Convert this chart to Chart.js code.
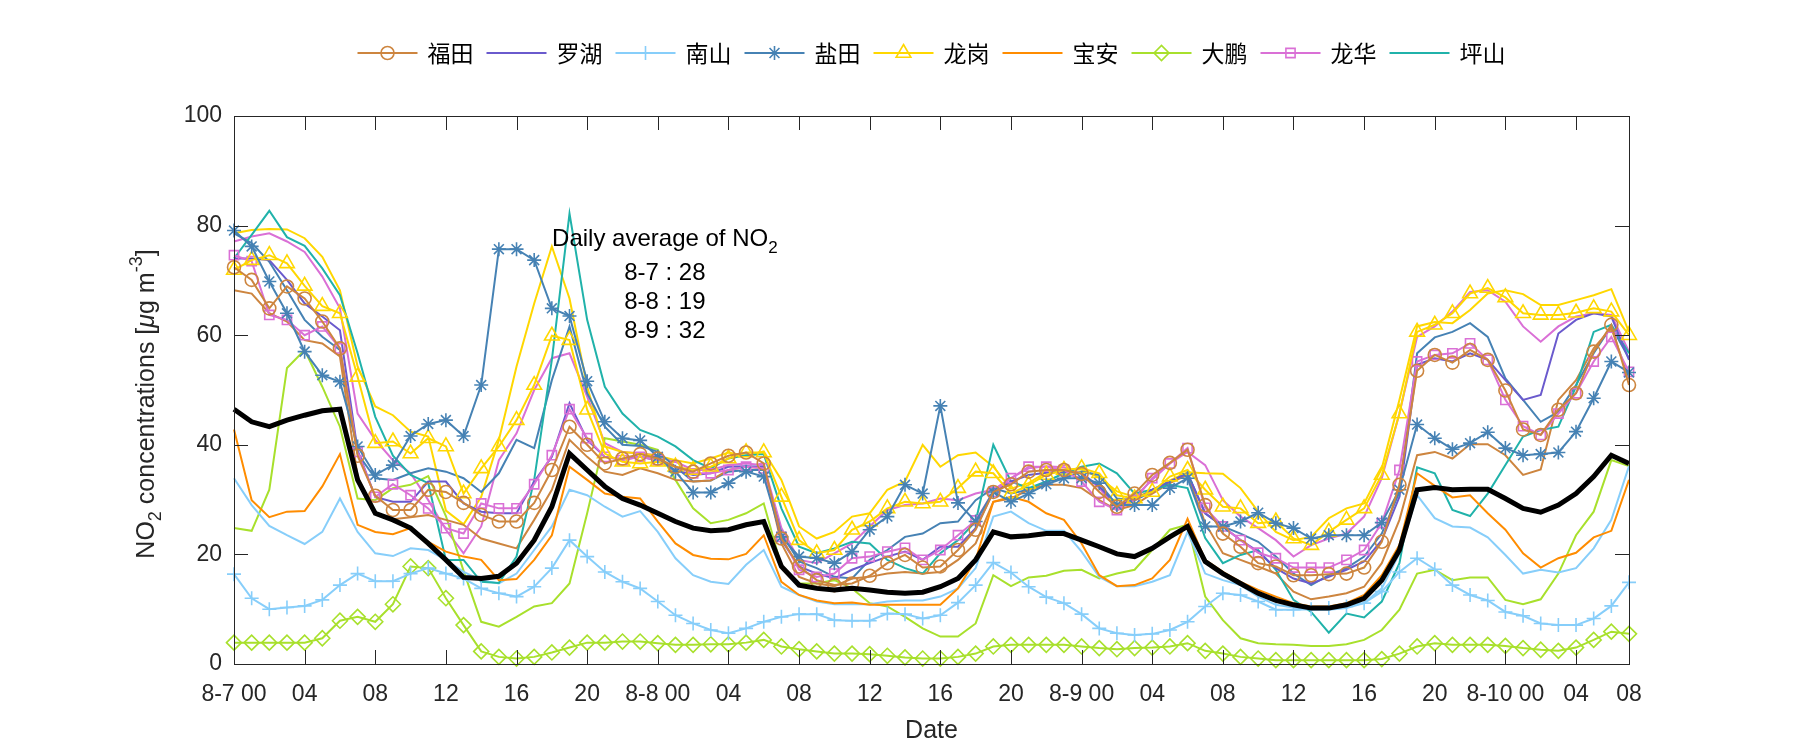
<!DOCTYPE html>
<html>
<head>
<meta charset="utf-8">
<script src="https://cdn.jsdelivr.net/npm/chart.js@4.4.1/dist/chart.umd.min.js"></script>
<style>
    html, body { margin: 0; padding: 0; background: #fff; }
</style>
</head>
<body>
<canvas id="no2-chart" width="1800" height="750"></canvas>
<script>
// hours since 8-7 00:00
const hours = [0, 1, 2, 3, 4, 5, 6, 7, 8, 9, 10, 11, 12, 13, 14, 15, 16, 17, 18, 19,
    20, 21, 22, 23, 24, 25, 26, 27, 28, 29, 30, 31, 32, 33, 34, 35, 36, 37, 38, 39,
    40, 41, 42, 43, 44, 45, 46, 47, 48, 49, 50, 51, 52, 53, 54, 55, 56, 57, 58, 59,
    60, 61, 62, 63, 64, 65, 66, 67, 68, 69, 70, 71, 72, 73, 74, 75, 76, 77, 78, 79];
const tickHours = [0, 4, 8, 12, 16, 20, 24, 28, 32, 36, 40, 44, 48, 52, 56, 60, 64, 68, 72, 76, 79];
const tickLabels = ["8-7 00", "04", "08", "12", "16", "20", "8-8 00", "04", "08", "12", "16", "20",
    "8-9 00", "04", "08", "12", "16", "20", "8-10 00", "04", "08"];
const yTicks = [0, 20, 40, 60, 80, 100];
const dailyAverages = [["8-7", 28], ["8-8", 19], ["8-9", 32]];

const futian = [72.4, 70.1, 64.9, 68.9, 66.7, 62.5, 57.6, 38.0, 30.7, 28.1, 28.1, 31.8, 31.4, 29.4,
    27.2, 26.0, 26.0, 29.4, 35.4, 43.3, 40.0, 36.6, 37.5, 38.3, 37.5, 36.0, 35.1, 36.6,
    38.0, 38.6, 36.6, 22.9, 17.8, 15.3, 14.4, 14.7, 16.1, 18.4, 19.9, 17.6, 17.8,
    20.8, 24.5, 31.4, 32.8, 35.1, 35.4, 35.4, 34.7, 31.4, 28.7, 31.1, 34.5, 36.7, 39.1,
    29.0, 23.8, 21.4, 18.4, 17.8, 16.2, 16.2, 16.4, 16.5, 17.6, 22.3, 32.7, 53.5, 56.4,
    55.0, 57.3, 55.5, 49.9, 42.8, 41.8, 46.4, 49.4, 57.0, 61.9, 50.9];
const futian2 = [68.2, 67.6, 64.0, 62.5, 59.1, 58.5, 56.1, 34.2, 27.5, 26.4, 26.8, 27.2, 26.3, 25.4,
    22.9, 22.0, 21.1, 26.3, 31.8, 40.9, 37.8, 35.1, 34.5, 35.7, 34.8, 33.6, 33.3, 33.5,
    35.4, 36.0, 35.7, 22.0, 15.9, 14.7, 14.2, 15.6, 15.9, 16.5, 16.8, 16.5, 16.8,
    19.0, 22.0, 29.6, 30.2, 31.8, 32.7, 32.7, 32.1, 29.9, 28.1, 29.0, 31.1, 33.0, 34.5,
    25.7, 20.2, 19.0, 17.8, 16.5, 13.2, 11.8, 12.3, 12.9, 14.1, 18.4, 26.3, 38.1, 38.7,
    37.5, 40.1, 40.1, 38.1, 34.5, 35.5, 48.2, 51.8, 57.6, 61.3, 52.0];
const luohu = [74.0, 74.0, 73.7, 70.1, 65.8, 63.4, 60.9, 39.0, 30.5, 29.6, 29.6, 33.3, 33.3, 29.3,
    27.8, 27.5, 27.5, 33.3, 37.8, 47.6, 40.9, 37.8, 37.3, 37.8, 37.2, 35.4, 34.5, 34.8,
    36.0, 36.1, 36.0, 22.6, 17.8, 16.5, 15.6, 17.2, 18.4, 19.6, 20.5, 19.0, 21.4,
    21.4, 24.8, 31.4, 33.3, 34.5, 34.9, 35.1, 34.8, 32.4, 29.0, 29.9, 31.8, 33.3, 34.8,
    27.5, 25.1, 22.6, 20.5, 17.5, 15.6, 14.7, 15.9, 17.2, 18.7, 22.6, 30.5, 54.6, 55.8,
    55.2, 56.7, 55.5, 51.8, 48.2, 49.1, 60.3, 62.8, 64.0, 63.4, 55.5];
const nanshan = [16.4, 12.0, 10.0, 10.3, 10.6, 11.7, 14.4, 16.5, 15.1, 15.1, 16.5, 17.5, 16.5, 15.6,
    13.8, 12.9, 12.3, 14.1, 17.5, 22.6, 19.6, 16.8, 15.0, 13.8, 11.4, 8.9, 7.4, 6.2,
    5.6, 6.5, 7.7, 8.6, 9.1, 9.1, 8.0, 7.9, 7.9, 9.2, 9.1, 8.3, 8.9,
    11.2, 14.4, 18.5, 16.7, 14.1, 12.2, 11.1, 9.1, 6.5, 5.6, 5.3, 5.5, 6.2, 7.7,
    10.5, 12.9, 12.6, 11.4, 9.9, 9.9, 10.0, 10.2, 10.5, 11.1, 13.2, 16.8, 19.3, 17.3,
    14.4, 12.6, 11.6, 9.5, 8.8, 7.4, 7.1, 7.1, 8.3, 10.6, 14.9];
const nanshan2 = [33.9, 29.0, 25.2, 23.5, 21.9, 24.1, 30.2, 24.1, 20.2, 19.7, 21.1, 20.8, 19.0, 16.8,
    15.3, 14.7, 16.5, 20.8, 25.1, 31.8, 30.8, 28.7, 26.9, 27.9, 24.1, 19.3, 16.2, 15.0,
    14.6, 18.1, 20.8, 14.1, 12.6, 11.4, 10.9, 10.9, 10.9, 11.4, 11.6, 11.6, 12.3,
    13.8, 17.5, 26.9, 27.8, 25.7, 24.3, 24.3, 20.5, 15.9, 14.2, 14.2, 15.0, 16.2, 24.1,
    16.5, 15.3, 14.4, 12.3, 10.8, 10.3, 9.9, 9.9, 10.2, 11.1, 13.8, 20.2, 30.8, 26.6,
    25.1, 24.9, 23.1, 19.9, 16.5, 17.2, 16.7, 17.5, 21.1, 26.3, 36.1];
const yantian = [79.1, 76.2, 69.8, 64.0, 57.0, 52.7, 51.5, 39.7, 34.5, 36.3, 41.6, 43.8, 44.5, 41.6,
    50.9, 75.7, 75.7, 73.7, 64.9, 63.5, 51.6, 44.2, 41.2, 40.8, 37.8, 35.1, 31.3, 31.3,
    33.0, 35.1, 34.2, 23.2, 19.6, 19.3, 18.4, 20.5, 24.5, 26.9, 32.7, 31.1, 47.1,
    29.4, 26.0, 31.4, 29.6, 31.1, 32.8, 33.9, 33.9, 33.0, 29.0, 29.0, 29.0, 32.1, 33.9,
    25.1, 25.1, 26.0, 27.6, 25.7, 24.8, 22.9, 23.5, 23.5, 23.5, 25.8, 31.8, 43.7, 41.2,
    39.2, 40.3, 42.3, 39.4, 38.1, 38.3, 38.6, 42.4, 48.5, 55.2, 53.2];
const yantian2 = [78.6, 76.8, 73.4, 68.2, 62.8, 59.7, 57.3, 38.4, 33.9, 33.6, 34.8, 35.7, 35.1, 33.9,
    31.4, 34.8, 40.9, 39.4, 51.8, 61.6, 49.4, 43.3, 40.0, 39.8, 38.7, 36.0, 33.3, 33.5,
    35.1, 35.4, 35.4, 23.8, 18.7, 17.5, 15.9, 15.6, 19.0, 20.8, 23.2, 23.8, 25.7,
    26.0, 29.9, 32.1, 31.1, 31.8, 33.3, 33.9, 35.1, 34.5, 30.2, 29.9, 31.4, 33.3, 34.8,
    27.5, 25.1, 23.8, 22.3, 19.6, 16.5, 14.4, 16.2, 17.5, 19.6, 23.8, 31.4, 56.7, 59.6,
    60.6, 62.2, 59.7, 52.1, 48.2, 44.2, 46.0, 50.9, 56.7, 61.6, 55.8];
const longgang = [71.9, 73.7, 74.6, 73.1, 69.0, 65.3, 64.0, 52.4, 40.3, 40.6, 38.4, 41.2, 39.7, 31.1,
    35.7, 39.7, 44.5, 50.9, 59.9, 59.1, 46.4, 38.4, 36.9, 36.6, 36.9, 36.0, 35.4, 36.0,
    37.5, 38.6, 38.6, 30.5, 22.6, 20.2, 20.8, 24.5, 26.0, 28.4, 29.6, 29.3, 29.6,
    32.1, 35.1, 34.8, 31.1, 32.7, 34.5, 35.4, 35.7, 34.8, 30.8, 30.2, 31.4, 34.2, 35.4,
    31.8, 28.7, 28.4, 25.7, 26.0, 22.9, 21.7, 24.1, 26.3, 28.4, 34.5, 45.7, 60.6, 61.9,
    64.0, 67.6, 68.6, 66.9, 64.0, 63.7, 63.7, 64.1, 64.9, 64.3, 60.0];
const longgang2 = [78.6, 79.2, 79.4, 79.3, 77.7, 74.3, 68.2, 54.3, 47.0, 45.4, 42.4, 41.5, 28.0, 25.5,
    30.5, 40.9, 54.3, 65.8, 76.2, 66.7, 50.6, 39.7, 38.7, 38.4, 38.0, 37.2, 36.6, 37.5,
    38.6, 38.0, 38.8, 33.6, 25.1, 22.9, 24.1, 26.9, 27.5, 31.8, 33.3, 40.0, 36.0,
    38.1, 38.6, 36.0, 32.0, 33.0, 35.0, 35.5, 35.5, 34.0, 31.5, 30.5, 31.5, 33.5, 35.0,
    34.8, 34.7, 32.1, 27.8, 24.1, 22.6, 23.2, 26.6, 28.4, 29.3, 35.7, 48.2, 61.6, 62.4,
    62.2, 64.6, 67.6, 68.2, 67.5, 65.5, 65.5, 66.4, 67.3, 68.4, 60.6];
const baoan = [42.8, 29.9, 26.8, 27.8, 27.9, 32.4, 38.3, 25.4, 24.1, 23.7, 24.8, 22.3, 20.5, 19.6,
    19.0, 15.3, 15.5, 19.0, 23.5, 36.0, 33.6, 31.1, 30.5, 30.2, 26.0, 22.0, 19.9, 19.2,
    19.1, 20.1, 23.5, 15.0, 12.6, 11.6, 11.1, 11.2, 10.8, 10.8, 10.8, 10.8, 10.8,
    13.8, 19.0, 29.6, 30.5, 29.6, 27.5, 26.3, 22.0, 16.2, 14.2, 14.4, 15.6, 19.0, 26.5,
    19.0, 16.8, 15.0, 13.5, 12.3, 11.1, 10.5, 10.5, 11.1, 12.6, 16.2, 21.7, 34.8, 32.5,
    30.4, 30.8, 27.5, 24.5, 20.2, 17.6, 19.3, 20.3, 23.1, 24.3, 33.6];
const dapeng = [3.9, 3.9, 3.9, 3.9, 3.9, 4.7, 7.9, 8.6, 7.7, 10.9, 17.8, 17.5, 12.0, 7.1,
    2.3, 1.3, 1.0, 1.3, 2.1, 3.0, 3.9, 3.9, 4.1, 4.1, 3.8, 3.5, 3.5, 3.6,
    3.6, 3.9, 4.4, 3.2, 2.7, 2.3, 1.9, 1.9, 1.8, 1.5, 1.2, 1.0, 1.0,
    1.3, 1.9, 3.2, 3.5, 3.5, 3.5, 3.5, 3.2, 2.9, 2.7, 2.9, 3.0, 3.2, 3.8,
    2.4, 1.9, 1.3, 1.0, 0.7, 0.7, 0.7, 0.7, 0.7, 0.7, 0.9, 1.9, 3.2, 3.8,
    3.5, 3.5, 3.5, 3.3, 2.9, 2.6, 2.4, 3.0, 4.4, 5.9, 5.5];
const dapeng2 = [24.8, 24.3, 31.8, 54.0, 57.3, 50.6, 43.3, 30.2, 29.9, 32.1, 32.7, 34.3, 27.0, 17.0,
    7.7, 6.8, 8.6, 10.5, 11.1, 14.7, 27.5, 41.2, 40.6, 40.0, 39.1, 33.6, 28.4, 25.7,
    26.3, 27.5, 29.3, 17.8, 14.7, 14.7, 15.3, 13.8, 11.1, 10.5, 8.6, 6.5, 5.0,
    5.0, 7.4, 16.2, 14.2, 15.8, 16.1, 17.0, 17.2, 15.6, 16.5, 17.2, 20.8, 24.5, 25.4,
    12.3, 8.0, 4.7, 3.8, 3.6, 3.5, 3.3, 3.3, 3.6, 4.4, 6.2, 9.9, 16.5, 17.2,
    15.3, 15.8, 15.8, 11.7, 10.9, 11.8, 16.5, 23.5, 27.8, 37.2, 36.1];
const longhua = [74.6, 73.5, 63.7, 62.8, 60.0, 61.6, 57.6, 38.7, 30.5, 32.8, 30.8, 28.4, 24.8, 23.8,
    29.3, 28.4, 28.4, 32.8, 38.1, 46.5, 41.2, 37.8, 37.2, 37.8, 37.2, 36.0, 34.8, 34.8,
    35.4, 36.0, 35.7, 23.2, 17.2, 15.9, 16.5, 19.3, 19.6, 20.5, 21.2, 19.0, 20.8,
    23.5, 26.2, 31.4, 33.9, 36.0, 36.0, 35.4, 33.3, 29.6, 28.1, 29.9, 33.9, 36.6, 39.4,
    28.5, 25.1, 22.6, 20.3, 19.3, 17.6, 17.6, 17.6, 19.0, 20.8, 25.7, 35.4, 55.2, 56.4,
    56.7, 58.5, 55.5, 48.2, 43.4, 41.8, 45.7, 49.4, 55.2, 59.7, 53.3];
const longhua2 = [77.1, 78.0, 78.6, 77.1, 75.2, 70.7, 64.9, 45.7, 40.9, 37.2, 34.8, 29.9, 24.5, 20.2,
    25.1, 37.2, 42.1, 50.0, 55.8, 56.7, 48.8, 40.3, 38.7, 38.4, 38.1, 36.9, 35.4, 35.4,
    36.3, 36.6, 36.3, 24.8, 19.0, 18.4, 20.2, 22.0, 25.1, 28.1, 29.0, 29.3, 30.2,
    29.9, 31.1, 31.8, 33.9, 35.7, 36.1, 35.9, 34.8, 32.1, 28.4, 30.5, 33.6, 36.6, 38.7,
    36.3, 29.9, 26.9, 24.8, 22.6, 19.6, 21.7, 22.9, 23.8, 26.9, 33.9, 45.7, 59.7, 61.6,
    64.3, 67.9, 68.2, 66.1, 61.6, 58.8, 61.6, 63.4, 64.0, 63.7, 57.0];
const pingshan = [74.0, 78.3, 82.7, 77.9, 76.3, 72.2, 67.3, 56.7, 45.1, 38.0, 34.5, 33.0, 19.0, 19.0,
    15.0, 14.8, 19.6, 33.6, 55.5, 82.2, 62.8, 50.6, 45.7, 42.7, 41.5, 39.7, 37.2, 35.7,
    37.5, 38.1, 38.3, 28.4, 21.4, 20.2, 21.1, 22.3, 22.0, 19.0, 17.5, 16.5, 20.2,
    22.6, 26.0, 40.0, 33.3, 32.1, 33.3, 34.8, 36.0, 36.6, 34.8, 31.1, 31.8, 32.7, 32.1,
    23.0, 18.4, 19.9, 20.8, 17.2, 11.7, 9.5, 5.7, 9.2, 8.5, 11.4, 18.4, 35.9, 34.8,
    28.1, 27.0, 31.1, 36.3, 41.5, 42.7, 43.3, 50.6, 60.6, 61.9, 56.7];
const cityAverage = [46.5, 44.2, 43.3, 44.5, 45.4, 46.2, 46.5, 33.6, 27.5, 26.3, 24.8, 22.0, 19.0, 15.8,
    15.6, 16.0, 18.4, 22.6, 28.7, 38.4, 35.4, 32.4, 30.2, 29.0, 27.5, 26.0, 24.8, 24.3,
    24.5, 25.4, 26.0, 17.8, 14.4, 13.8, 13.5, 13.8, 13.5, 13.1, 12.9, 13.1, 14.1,
    15.6, 19.0, 24.1, 23.2, 23.4, 23.8, 23.8, 22.6, 21.4, 20.1, 19.6, 21.1, 23.2, 25.1,
    18.7, 16.5, 14.7, 12.9, 11.6, 10.8, 10.2, 10.2, 10.8, 12.0, 15.3, 20.8, 31.8,
    32.2, 31.8, 31.9, 31.9, 30.2, 28.4, 27.7, 29.0, 31.1, 34.2, 38.1, 36.6];

const FONT = "'Liberation Sans', Arial, sans-serif";
const CJK_FONT = "'Noto Sans CJK SC', sans-serif";
const TEXT_COLOR = "#262626";
const TICK_LEN = 14;

function makeLine(label, data, color, extra) {
    return Object.assign({
        label: label,
        data: data,
        borderColor: color,
        backgroundColor: color,
        borderWidth: 2,
        pointRadius: 0,
        pointHoverRadius: 0,
        pointBorderColor: color,
        pointBackgroundColor: "rgba(0,0,0,0)",
        pointBorderWidth: 1.6,
        tension: 0,
        fill: false,
        clip: false,
        order: 2,
        inLegend: false
    }, extra || {});
}

function withMarker(style, radius) {
    return { pointStyle: style, pointRadius: radius, order: 1, inLegend: true };
}

const datasets = [
    makeLine("福田", futian, "#CD853F", withMarker("circle", 6.5)),
    makeLine("罗湖", luohu, "#6A5ACD", { inLegend: true }),
    makeLine("南山", nanshan, "#87CEFA", withMarker("cross", 7)),
    makeLine("盐田", yantian, "#4682B4", withMarker("star", 7)),
    makeLine("龙岗", longgang, "#FFD700", withMarker("triangle", 8.5)),
    makeLine("宝安", baoan, "#FF8C00", { inLegend: true }),
    makeLine("大鹏", dapeng, "#A8E02C", withMarker("rectRot", 7.5)),
    makeLine("龙华", longhua, "#DA70D6", withMarker("rect", 6.5)),
    makeLine("坪山", pingshan, "#20B2AA", { inLegend: true }),
    makeLine("", futian2, "#CD853F"),
    makeLine("", nanshan2, "#87CEFA"),
    makeLine("", yantian2, "#4682B4"),
    makeLine("", longgang2, "#FFD700"),
    makeLine("", dapeng2, "#A8E02C"),
    makeLine("", longhua2, "#DA70D6"),
    makeLine("", cityAverage, "#000000", { borderWidth: 5, order: 0 })
];

// text with sub/superscripts, centred on (cx, cy)
function drawRich(ctx, segs, cx, cy, size, color) {
    const fontFor = (s) => (s.italic ? "italic " : "") +
        Math.round(s.sub || s.sup ? size * 0.72 : size) + "px " + FONT;
    let total = 0;
    segs.forEach((s) => {
        ctx.font = fontFor(s);
        s.w = ctx.measureText(s.t).width;
        total += s.w;
    });
    let x = cx - total / 2;
    ctx.fillStyle = color;
    ctx.textAlign = "left";
    ctx.textBaseline = "middle";
    segs.forEach((s) => {
        ctx.font = fontFor(s);
        const dy = s.sub ? size * 0.38 : s.sup ? -size * 0.38 : 0;
        ctx.fillText(s.t, x, cy + dy);
        x += s.w;
    });
}

const matlabLook = {
    id: "matlabLook",
    afterDatasetsDraw(chart) {
        const { ctx, chartArea: a, scales } = chart;
        ctx.save();
        ctx.strokeStyle = TEXT_COLOR;
        ctx.lineWidth = 1;
        ctx.strokeRect(Math.round(a.left) + 0.5, Math.round(a.top) + 0.5,
            Math.round(a.right - a.left), Math.round(a.bottom - a.top));
        ctx.beginPath();
        tickHours.forEach((h) => {
            const px = Math.round(scales.x.getPixelForValue(h)) + 0.5;
            ctx.moveTo(px, a.bottom);
            ctx.lineTo(px, a.bottom - TICK_LEN);
            ctx.moveTo(px, a.top);
            ctx.lineTo(px, a.top + TICK_LEN);
        });
        yTicks.forEach((v) => {
            const py = Math.round(scales.y.getPixelForValue(v)) + 0.5;
            ctx.moveTo(a.left, py);
            ctx.lineTo(a.left + TICK_LEN, py);
            ctx.moveTo(a.right, py);
            ctx.lineTo(a.right - TICK_LEN, py);
        });
        ctx.stroke();
        ctx.restore();
    },
    afterDraw(chart) {
        const { ctx, chartArea: a, scales } = chart;
        ctx.save();

        // legend
        const items = chart.data.datasets.filter((d) => d.inLegend);
        ctx.font = "23px " + CJK_FONT;
        const lineLen = 60, gap = 10, spacing = 13;
        let total = 0;
        items.forEach((d) => { total += lineLen + gap + ctx.measureText(d.label).width + spacing; });
        total -= spacing;
        let lx = (a.left + a.right) / 2 - total / 2;
        const ly = 53;
        items.forEach((d) => {
            ctx.strokeStyle = d.borderColor;
            ctx.lineWidth = d.borderWidth;
            ctx.beginPath();
            ctx.moveTo(lx, ly);
            ctx.lineTo(lx + lineLen, ly);
            ctx.stroke();
            if (d.pointRadius > 0 && Chart.helpers && Chart.helpers.drawPoint) {
                ctx.fillStyle = "rgba(0,0,0,0)";
                ctx.lineWidth = d.pointBorderWidth;
                Chart.helpers.drawPoint(ctx, {
                    pointStyle: d.pointStyle, rotation: 0,
                    radius: d.pointRadius, borderWidth: d.pointBorderWidth
                }, lx + lineLen / 2, ly);
            }
            ctx.font = "23px " + CJK_FONT;
            ctx.fillStyle = "#000";
            ctx.textAlign = "left";
            ctx.textBaseline = "middle";
            ctx.fillText(d.label, lx + lineLen + gap, ly);
            lx += lineLen + gap + ctx.measureText(d.label).width + spacing;
        });

        // axis titles
        ctx.font = "25px " + FONT;
        ctx.fillStyle = TEXT_COLOR;
        ctx.textAlign = "center";
        ctx.textBaseline = "middle";
        ctx.fillText("Date", (a.left + a.right) / 2, 731);

        ctx.save();
        ctx.translate(147, 404);
        ctx.rotate(-Math.PI / 2);
        drawRich(ctx, [
            { t: "NO" }, { t: "2", sub: true }, { t: " concentrations [" },
            { t: "\u03bc", italic: true }, { t: "g m" }, { t: "-3", sup: true }, { t: "]" }
        ], 0, 0, 25, TEXT_COLOR);
        ctx.restore();

        // daily average note
        const cx = scales.x.getPixelForValue(24.4);
        drawRich(ctx, [{ t: "Daily average of NO" }, { t: "2", sub: true }],
            cx, scales.y.getPixelForValue(77.5), 24, "#000");
        const noteY = [71.3, 66.0, 60.7];
        dailyAverages.forEach((d, i) => {
            drawRich(ctx, [{ t: d[0] + " : " + d[1] }], cx, scales.y.getPixelForValue(noteY[i]), 24, "#000");
        });
        ctx.restore();
    }
};

const chartCtx = document.getElementById("no2-chart").getContext("2d");
new Chart(chartCtx, {
    type: "line",
    data: { labels: hours, datasets: datasets },
    plugins: [matlabLook],
    options: {
        responsive: false,
        animation: false,
        events: [],
        layout: { padding: { left: 0, right: 171, top: 116, bottom: 0 } },
        plugins: {
            legend: { display: false },
            tooltip: { enabled: false }
        },
        scales: {
            x: {
                type: "linear",
                min: 0,
                max: 79,
                grid: { display: false, drawTicks: false },
                border: { display: false },
                afterBuildTicks: (scale) => {
                    scale.ticks = tickHours.map((v) => ({ value: v }));
                },
                afterFit: (scale) => { scale.height = 86; },
                ticks: {
                    autoSkip: false,
                    maxRotation: 0,
                    padding: 17,
                    color: TEXT_COLOR,
                    font: { family: FONT, size: 23 },
                    callback: (v) => tickLabels[tickHours.indexOf(v)]
                }
            },
            y: {
                min: 0,
                max: 100,
                grid: { display: false, drawTicks: false },
                border: { display: false },
                afterFit: (scale) => { scale.width = 234; },
                ticks: {
                    stepSize: 20,
                    padding: 12,
                    color: TEXT_COLOR,
                    font: { family: FONT, size: 23 }
                }
            }
        }
    }
});
</script>
</body>
</html>
